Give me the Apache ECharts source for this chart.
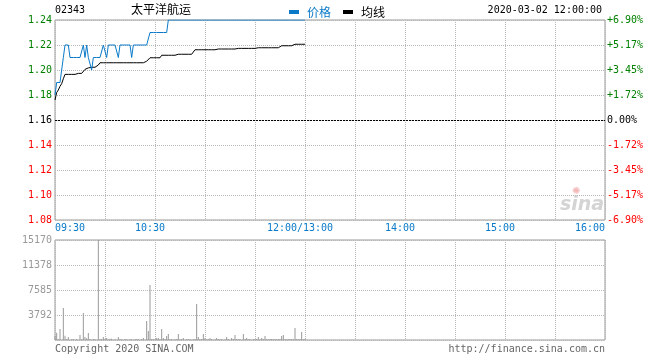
<!DOCTYPE html>
<html><head><meta charset="utf-8">
<script src="https://cdn.jsdelivr.net/npm/echarts@6/dist/echarts.min.js"></script>
<style>html,body{margin:0;padding:0;background:#fff}#c{width:660px;height:360px}</style>
</head><body><div id="c"></div>
<script>
// ---------- data ----------
const stockCode = '02343';
const stockName = '太平洋航运';
const timestamp = '2020-03-02 12:00:00';
const prevClose = 1.16;
const seriesNames = ['价格', '均线'];

// one value per trading minute from 09:30 (index 0) to 12:00 (index 150)
const priceValues = [
  1.18,1.19,1.19,1.19,1.20,1.21,1.22,1.22,1.22,1.21,
  1.21,1.21,1.21,1.21,1.21,1.21,1.21,1.22,1.21,1.22,
  1.21,1.21,1.20,1.21,1.21,1.21,1.21,1.21,1.21,1.22,
  1.22,1.21,1.22,1.22,1.22,1.22,1.22,1.22,1.21,1.22,
  1.22,1.22,1.22,1.22,1.22,1.22,1.21,1.22,1.22,1.22,
  1.22,1.22,1.22,1.22,1.22,1.22,1.22,1.23,1.23,1.23,
  1.23,1.23,1.23,1.23,1.23,1.23,1.23,1.23,1.24,1.24,
  1.24,1.24,1.24,1.24,1.24,1.24,1.24,1.24,1.24,1.24,
  1.24,1.24,1.24,1.24,1.24,1.24,1.24,1.24,1.24,1.24,
  1.24,1.24,1.24,1.24,1.24,1.24,1.24,1.24,1.24,1.24,
  1.24,1.24,1.24,1.24,1.24,1.24,1.24,1.24,1.24,1.24,
  1.24,1.24,1.24,1.24,1.24,1.24,1.24,1.24,1.24,1.24,
  1.24,1.24,1.24,1.24,1.24,1.24,1.24,1.24,1.24,1.24,
  1.24,1.24,1.24,1.24,1.24,1.24,1.24,1.24,1.24,1.24,
  1.24,1.24,1.24,1.24,1.24,1.24,1.24,1.24,1.24,1.24,
  1.24
];
const avgValues = [
  1.176,1.182,1.184,1.187,1.189,1.193,1.1965,1.1965,1.1965,1.1965,
  1.1965,1.1965,1.1965,1.1973,1.1973,1.1973,1.1973,1.1987,1.2005,1.2017,
  1.2017,1.2022,1.2022,1.2022,1.2022,1.2022,1.204,1.2058,1.2058,1.2058,
  1.2058,1.2058,1.2058,1.2058,1.2058,1.2058,1.2058,1.2058,1.2058,1.2058,
  1.2058,1.2058,1.2058,1.2058,1.2058,1.2058,1.2058,1.2058,1.2058,1.2058,
  1.2058,1.2058,1.2058,1.2058,1.2058,1.207,1.2085,1.2098,1.2098,1.2098,
  1.2098,1.2098,1.2098,1.2098,1.2118,1.2118,1.2118,1.2118,1.2118,1.2118,
  1.2118,1.2118,1.2118,1.2118,1.2126,1.2126,1.2126,1.2126,1.2126,1.2126,
  1.2126,1.2126,1.2126,1.2126,1.2162,1.2162,1.2162,1.2162,1.2162,1.2162,
  1.2162,1.2162,1.2162,1.2162,1.2162,1.2162,1.2162,1.2162,1.2168,1.2168,
  1.2168,1.2168,1.2168,1.2168,1.2168,1.2168,1.2168,1.2168,1.2168,1.2173,
  1.2173,1.2173,1.2173,1.2173,1.2173,1.2173,1.2173,1.2173,1.2173,1.2173,
  1.2173,1.2173,1.2178,1.2178,1.2178,1.2178,1.2178,1.2178,1.2178,1.2178,
  1.2178,1.2178,1.2178,1.2178,1.2178,1.2178,1.2194,1.2194,1.2194,1.2194,
  1.2194,1.2194,1.2194,1.2194,1.2206,1.2206,1.2206,1.2206,1.2206,1.2206,
  1.2206
];
const volumeValues = [
  600,1100,150,1670,0,4855,650,150,450,0,
  100,150,0,150,0,760,100,4100,450,250,
  1060,150,0,150,100,0,15170,150,150,455,
  200,300,100,200,200,0,100,0,455,150,
  100,0,150,100,0,150,100,0,150,100,
  150,0,100,300,0,2880,1365,8344,150,100,
  150,300,300,100,1670,300,150,600,910,100,
  150,0,100,150,910,100,150,300,0,150,
  100,150,0,100,150,5460,450,100,150,910,
  300,100,150,300,150,0,100,300,150,100,
  150,0,100,455,150,0,300,150,760,150,
  100,150,0,910,150,300,100,150,0,150,
  100,150,455,100,300,150,607,150,100,150,
  150,100,150,100,150,150,607,760,150,100,
  150,100,150,100,1820,150,100,150,1214,100,
  200
];

// tick labels
const timeTickValues = [0, 60, 150, 210, 270, 330];
const timeTickLabels = ['09:30', '10:30', '12:00/13:00', '14:00', '15:00', '16:00'];
const priceTickLabels = ['1.08','1.10','1.12','1.14','1.16','1.18','1.20','1.22','1.24'];
const pctTickLabels = ['-6.90%','-5.17%','-3.45%','-1.72%','0.00%','+1.72%','+3.45%','+5.17%','+6.90%'];
const volumeTickLabels = ['', '3792', '7585', '11378', '15170'];
const footerLeft = 'Copyright 2020 SINA.COM';
const footerRight = 'http://finance.sina.com.cn';

// ---------- chart ----------
const MONO = '"DejaVu Sans Mono", "Liberation Mono", monospace';
const CJK = '"Noto Sans CJK SC", sans-serif';
const BLUE = '#0a7ac8';
const GREEN = '#008000';
const RED = '#ff0000';
const GRIDC = '#b8b8b8';

const priceMin = 1.08, priceMax = 1.24, priceStep = 0.02;
const volMax = 15170, volStep = volMax / 4;

function priceIdx(v) { return Math.round((v - priceMin) / priceStep); }
function priceColor(v) {
  const i = priceIdx(v);
  return i > 4 ? GREEN : (i < 4 ? RED : '#000');
}

const chart = echarts.init(document.getElementById('c'), null, {renderer: 'canvas'});

const dotted = {color: GRIDC, type: [1, 1], width: 1};

chart.setOption({
  animation: false,
  backgroundColor: '#fff',
  legend: {
    left: 284, top: 1,
    icon: 'rect', itemWidth: 10, itemHeight: 4, itemGap: 12,
    textStyle: {fontFamily: CJK, fontSize: 12, padding: [0, 0, 0, 3]},
    data: [
      {name: seriesNames[0], textStyle: {color: BLUE}},
      {name: seriesNames[1], textStyle: {color: '#000'}}
    ],
    selectedMode: false
  },
  graphic: [
    {type: 'text', left: 55, top: 5, style: {text: stockCode, font: '10px ' + MONO, fill: '#000'}},
    {type: 'text', left: 131, top: 3, style: {text: stockName, font: '12px ' + CJK, fill: '#000'}},
    {type: 'text', right: 58, top: 5, style: {text: timestamp, font: '10px ' + MONO, fill: '#000', textAlign: 'right'}},
    {type: 'text', left: 55, top: 344, style: {text: footerLeft, font: '10px ' + MONO, fill: '#666'}},
    {type: 'text', right: 55, top: 344, style: {text: footerRight, font: '10px ' + MONO, fill: '#666', textAlign: 'right'}},
    {type: 'text', left: 560, top: 196, style: {text: 'sina', font: 'italic bold 19px "DejaVu Sans", sans-serif', fill: '#d4d4d4'}},
    {type: 'text', left: 572, top: 186, style: {text: '✺', font: '10px "DejaVu Sans", sans-serif', fill: '#f2b8b8'}}
  ],
  grid: [
    {left: 55, top: 20, width: 550, height: 200, show: true, borderColor: '#999', borderWidth: 1, backgroundColor: 'transparent'},
    {left: 55, top: 240, width: 550, height: 100, show: true, borderColor: '#999', borderWidth: 1, backgroundColor: 'transparent'}
  ],
  xAxis: [
    {
      type: 'value', gridIndex: 0, min: 0, max: 330, interval: 30,
      axisLine: {show: false}, axisTick: {show: false},
      splitLine: {show: true, lineStyle: dotted},
      axisLabel: {
        show: true, margin: 3, fontFamily: MONO, fontSize: 10, color: BLUE,
        alignMinLabel: 'left', alignMaxLabel: 'right',
        rich: {m: {padding: [0, 10, 0, 0], fontFamily: MONO, fontSize: 10, color: BLUE}},
        formatter: function (v) {
          const i = timeTickValues.indexOf(Math.round(v));
          if (i < 0) return '';
          if (i === 0 || i === timeTickValues.length - 1) return timeTickLabels[i];
          return '{m|' + timeTickLabels[i] + '}';
        }
      }
    },
    {
      type: 'value', gridIndex: 1, min: 0, max: 330, interval: 30,
      axisLine: {show: false}, axisTick: {show: false}, axisLabel: {show: false},
      splitLine: {show: true, lineStyle: dotted}
    }
  ],
  yAxis: [
    {
      type: 'value', gridIndex: 0, min: priceMin, max: priceMax, interval: priceStep,
      axisLine: {show: false}, axisTick: {show: false},
      splitLine: {show: true, lineStyle: dotted},
      axisLabel: {
        margin: 3, fontFamily: MONO, fontSize: 10,
        color: function (v) { return priceColor(+v); },
        formatter: function (v) { return priceTickLabels[priceIdx(v)] || ''; }
      }
    },
    {
      type: 'value', gridIndex: 0, min: priceMin, max: priceMax, interval: priceStep, position: 'right',
      axisLine: {show: false}, axisTick: {show: false}, splitLine: {show: false},
      axisLabel: {
        margin: 2, fontFamily: MONO, fontSize: 10,
        color: function (v) { return priceColor(+v); },
        formatter: function (v) { return pctTickLabels[priceIdx(v)] || ''; }
      }
    },
    {
      type: 'value', gridIndex: 1, min: 0, max: volMax, interval: volStep,
      axisLine: {show: false}, axisTick: {show: false},
      splitLine: {show: true, lineStyle: dotted},
      axisLabel: {
        margin: 3, fontFamily: MONO, fontSize: 10, color: '#999',
        formatter: function (v) { return volumeTickLabels[Math.round(v / volStep)] || ''; }
      }
    }
  ],
  series: [
    {
      name: seriesNames[0], type: 'line', xAxisIndex: 0, yAxisIndex: 0,
      data: priceValues.map((v, i) => [i, v]),
      showSymbol: false, symbol: 'none',
      lineStyle: {color: BLUE, width: 1}, itemStyle: {color: BLUE},
      markLine: {
        silent: true, symbol: 'none', label: {show: false},
        lineStyle: {color: '#000', type: [2, 1], width: 1},
        data: [{yAxis: prevClose}]
      },
      z: 4
    },
    {
      name: seriesNames[1], type: 'line', xAxisIndex: 0, yAxisIndex: 0,
      data: avgValues.map((v, i) => [i, v]),
      showSymbol: false, symbol: 'none',
      lineStyle: {color: '#000', width: 1}, itemStyle: {color: '#000'},
      z: 3
    },
    {
      name: 'volume', type: 'bar', xAxisIndex: 1, yAxisIndex: 2,
      data: volumeValues.map((v, i) => [i, v]),
      barWidth: 1, itemStyle: {color: '#999'}
    }
  ]
});
</script>
</body></html>
